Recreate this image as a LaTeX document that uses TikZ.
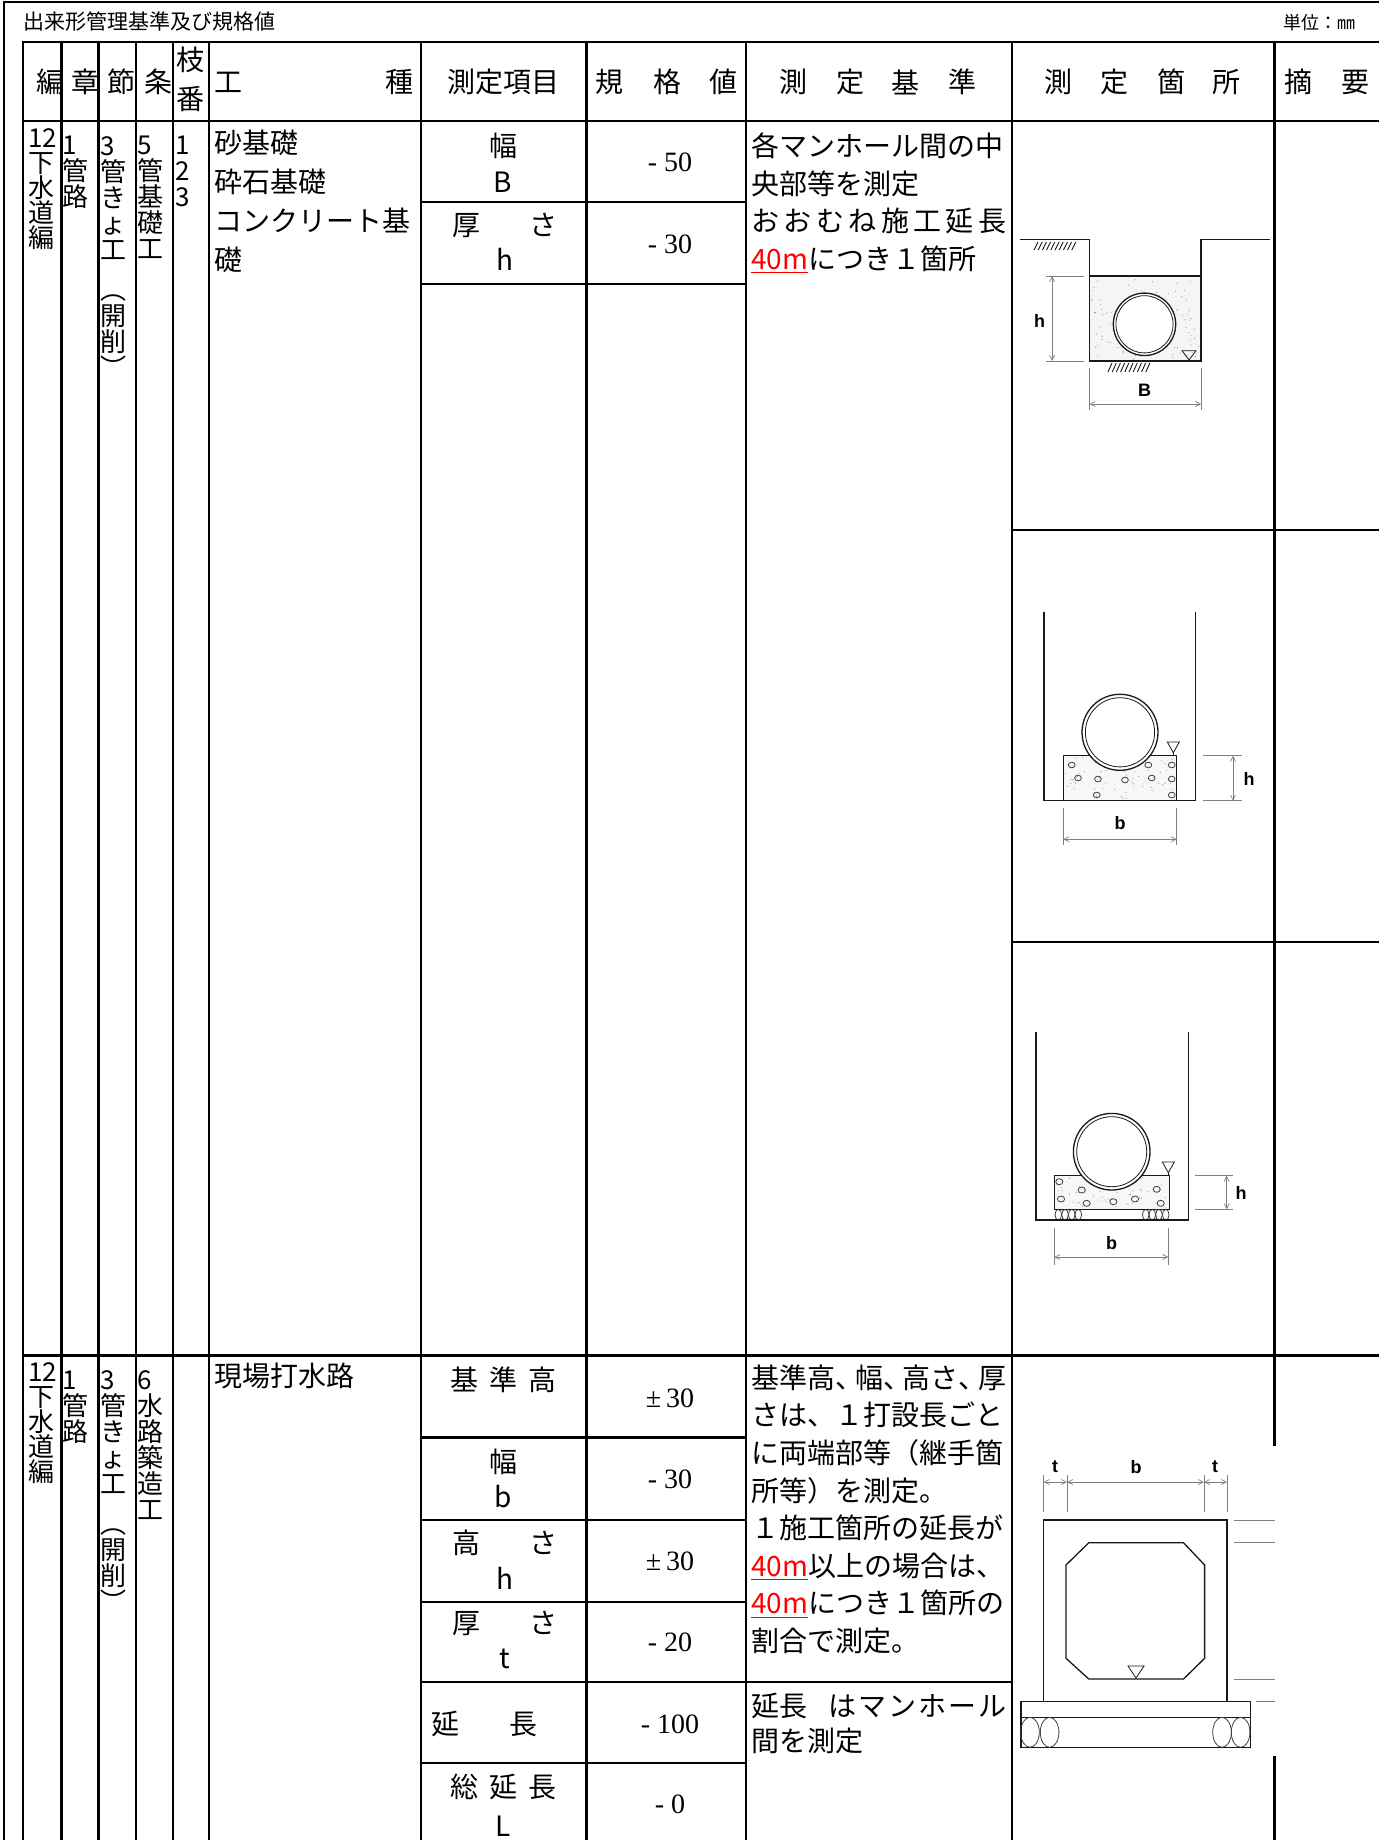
\documentclass[tikz,border=0pt]{standalone}
\usepackage{fontspec}
\setmainfont{Noto Sans CJK JP}
\newfontfamily\serifnum{Liberation Serif}
\newfontfamily\labelfont{Liberation Sans}
\usetikzlibrary{arrows.meta}

\newcommand{\redlen}{\textcolor{red}{\underline{40m}}}
\newcommand{\halfcomma}{\makebox[0.5em][l]{、}}

\tikzset{
  sheet/.style={x=0.5pt, y=-0.5pt},
  gridline/.style={line width=1.3pt, line cap=rect},
  headcell/.style={inner sep=0pt, anchor=center, font=\fontsize{14}{14}\selectfont},
  para/.style={inner sep=0pt, align=left, anchor=north west,
    font={\fontsize{14}{18.8}\selectfont\lineskiplimit=-100pt}},
  measure/.style={inner sep=0pt, align=center, anchor=north,
    font={\fontsize{14}{18}\selectfont\lineskiplimit=-100pt}},
  spec/.style={inner sep=0pt, anchor=center, font=\serifnum\fontsize{14}{14}\selectfont},
  vtext/.style={inner sep=0pt, align=left, anchor=north west,
    font={\fontsize{13}{13}\selectfont\lineskiplimit=-100pt}},
  dwg/.style={draw=black!90, line width=0.65pt},
  extline/.style={draw=black!50, line width=0.35pt},
  dimarrow/.style={extline,
    arrows={Straight Barb[length=2.5pt,width=2.5pt]-Straight Barb[length=2.5pt,width=2.5pt]}},
  dimlabel/.style={inner sep=0pt, font=\labelfont\bfseries\fontsize{9}{9}\selectfont},
  stone/.style={draw=black!75, line width=0.4pt},
}

\begin{document}
\begin{tikzpicture}[sheet]
\useasboundingbox (0,0) rectangle (1379,1840);

% frame, title
\draw[gridline] (4,1840) -- (4,2) -- (1379,2);
\node[inner sep=0pt, anchor=west, font=\fontsize{10.5}{10.5}\selectfont] (title) at (23,22) {出来形管理基準及び規格値};
\node[inner sep=0pt, anchor=east, font=\fontsize{9}{9}\selectfont] (unit) at (1356,23) {単位：㎜};

% table rules
\draw[gridline] (23,1840) -- (23,42) -- (1379,42);
\draw[gridline] (23,121) -- (1379,121);
\draw[gridline] (23,1355.5) -- (1379,1355.5);
\foreach \x in {61.5,98.7,136,173,209,421,586.5,746,1012}
  \draw[gridline] (\x,42) -- (\x,1840);
\draw[gridline] (1274.5,42) -- (1274.5,1445);
\draw[gridline] (1274.5,1757) -- (1274.5,1840);
\foreach \y in {202,284,1437.6,1520,1602,1763}
  \draw[gridline] (421,\y) -- (746,\y);
\draw[gridline] (421,1682) -- (1012,1682);
\foreach \y in {530,942}
  \draw[gridline] (1012,\y) -- (1379,\y);

% header
\node[headcell] (hhen) at (50,82) {編};
\node[headcell] (hsho) at (85.5,82) {章};
\node[headcell] (hsetsu) at (121.5,82) {節};
\node[headcell] (hjo) at (158.5,82) {条};
\node[headcell, align=center, font={\fontsize{14}{19.5}\selectfont}] (heda) at (190,79.5) {枝\\番};
\node[headcell, anchor=west] (hko) at (214,82) {工};
\node[headcell, anchor=east] (hshu) at (414,82) {種};
\node[headcell] (hkomoku) at (503,82) {測定項目};
\foreach \c/\x [count=\i] in {規/609.5,格/667.5,値/723}
  \node[headcell] (hkikaku\i) at (\x,82) {\c};
\foreach \c/\x [count=\i] in {測/793,定/850,基/905,準/962.5}
  \node[headcell] (hkijun\i) at (\x,82) {\c};
\foreach \c/\x [count=\i] in {測/1058,定/1114,箇/1171,所/1226}
  \node[headcell] (hkasho\i) at (\x,82) {\c};
\foreach \c/\x [count=\i] in {摘/1298.5,要/1355.5}
  \node[headcell] (htekiyo\i) at (\x,82) {\c};

% block 1
\node[vtext, font={\fontsize{13}{12.5}\selectfont\lineskiplimit=-100pt}] (hen1) at (28,128) {12\\下\\水\\道\\編};
\node[vtext] (sho1) at (62.5,136) {1\\管\\路};
\node[vtext] (setsu1) at (100,136) {3\\管\\き\\ょ\\工\\[7pt]︵\\開\\削\\︶};
\node[vtext] (jo1) at (137.5,136) {5\\管\\基\\礎\\工};
\node[vtext] (eda1) at (175,136) {1\\2\\3};
\node[para, font={\fontsize{14}{19.5}\selectfont}] (koshu1) at (213.6,130) {砂基礎\\砕石基礎\\コンクリート基\\礎};
\node[measure] (haba1) at (503,133) {幅\\B};
\node[measure, font={\fontsize{14}{17.75}\selectfont}] (atsusa1) at (504.5,212.5) {厚\hspace{1.75em}さ\\h};
\node[spec] (kikaku1) at (670,162) {- 50};
\node[spec] (kikaku2) at (670,244) {- 30};
\node[para] (kijun1) at (751,132.5) {各マンホール間の中\\央部等を測定\\\makebox[127.5pt][l]{お\hfill お\hfill む\hfill ね\hfill 施\hfill 工\hfill 延\hfill 長}\\\redlen につき１箇所};

% sand foundation
\fill[black!4] (1089.4,276) rectangle (1201,361);
\pgfmathsetseed{3}
\foreach \k in {1,...,110}{
  \pgfmathsetmacro{\dotx}{1091+108*rnd}
  \pgfmathsetmacro{\doty}{278+81*rnd}
  \fill[black!40] (\dotx,\doty) circle (0.3pt);
}
\draw[dwg] (1020,239.3) -- (1089.4,239.3) -- (1089.4,361) -- (1201,361) -- (1201,239.3) -- (1270,239.3);
\draw[dwg] (1089.4,276) -- (1201,276);
\foreach \k in {0,...,9}
  \draw[dwg, line width=0.45pt] (1034+4.2*\k,250) -- ++(4,-8);
\foreach \k in {0,...,9}
  \draw[dwg, line width=0.45pt] (1108+4.2*\k,372) -- ++(4,-9);
\draw[dwg, fill=white] (1144.5,324.3) circle (15.6pt);
\draw[dwg, line width=0.4pt] (1144.5,324.3) circle (14.3pt);
\draw[dwg, line width=0.4pt] (1182,350.7) -- (1196,350.7) -- (1189,360) -- cycle;
\draw[extline] (1045.5,276) -- (1084,276);
\draw[extline] (1045.5,361) -- (1084,361);
\draw[dimarrow] (1052,276) -- (1052,361);
\node[dimlabel] (lh1) at (1039.7,320.7) {h};
\draw[extline] (1089.4,368) -- (1089.4,410);
\draw[extline] (1201,368) -- (1201,410);
\draw[dimarrow] (1089.4,404) -- (1201,404);
\node[dimlabel] (lB1) at (1144.5,390.7) {B};

% gravel foundation
\fill[black!3] (1063.3,755.7) rectangle (1176.7,800.7);
\foreach \k in {1,...,60}{
  \pgfmathsetmacro{\dotx}{1065+110*rnd}
  \pgfmathsetmacro{\doty}{757+42*rnd}
  \fill[black!40] (\dotx,\doty) circle (0.3pt);
}
\foreach \sx/\sy in {1071.7/765,1148.3/765,1171.7/765,1078/778,1098/779,1125/780,1151.7/778,1171.7/779,1096.7/795,1171.7/795}
  \draw[stone] (\sx,\sy) ellipse [x radius=1.7pt, y radius=1.4pt];
\draw[dwg] (1063.3,800.7) -- (1063.3,755.7) -- (1176.7,755.7) -- (1176.7,800.7);
\draw[dwg] (1044,611.7) -- (1044,800.7) -- (1195.7,800.7) -- (1195.7,611.7);
\draw[dwg, fill=white] (1120,732.3) circle (19pt);
\draw[dwg, line width=0.4pt] (1120,732.3) circle (17.3pt);
\draw[dwg, line width=0.4pt] (1167.3,742) -- (1179.3,742) -- (1173.3,752.7) -- cycle;
\draw[dwg, line width=0.4pt] (1173.3,752.7) -- (1173.3,755.7);
\draw[extline] (1203,755.7) -- (1242,755.7);
\draw[extline] (1203,800.7) -- (1242,800.7);
\draw[dimarrow] (1233,755.7) -- (1233,800.7);
\node[dimlabel] (lh2) at (1249,779) {h};
\draw[extline] (1063.3,808) -- (1063.3,845);
\draw[extline] (1176.7,808) -- (1176.7,845);
\draw[dimarrow] (1063.3,839.3) -- (1176.7,839.3);
\node[dimlabel] (lb2) at (1120,822.7) {b};

% concrete foundation
\fill[black!3] (1054.3,1175.7) rectangle (1169.3,1209.3);
\foreach \k in {1,...,50}{
  \pgfmathsetmacro{\dotx}{1056+111*rnd}
  \pgfmathsetmacro{\doty}{1177+31*rnd}
  \fill[black!40] (\dotx,\doty) circle (0.3pt);
}
\foreach \sx/\sy in {1059.3/1181.7,1081.7/1190,1156.7/1189.3,1061/1199,1086.7/1203.3,1113.3/1201.7,1135/1199,1160.7/1203.3}
  \draw[stone] (\sx,\sy) ellipse [x radius=1.8pt, y radius=1.5pt];
\draw[dwg] (1054.3,1175.7) rectangle (1169.3,1209.3);
\foreach \px in {1058.3,1065,1071.7,1078.3,1145.7,1152.3,1159,1165.7}
  \draw[stone] (\px,1214.7) ellipse [x radius=1.65pt, y radius=2.65pt];
\draw[dwg] (1036,1032) -- (1036,1220) -- (1188.3,1220) -- (1188.3,1032);
\draw[dwg, fill=white] (1111.7,1151.7) circle (19.15pt);
\draw[dwg, line width=0.4pt] (1111.7,1151.7) circle (17.5pt);
\draw[dwg, line width=0.4pt] (1162.3,1162) -- (1174.3,1162) -- (1168.3,1172.7) -- cycle;
\draw[dwg, line width=0.4pt] (1168.3,1172.7) -- (1168.3,1175.7);
\draw[extline] (1195,1175.7) -- (1233,1175.7);
\draw[extline] (1195,1209.3) -- (1233,1209.3);
\draw[dimarrow] (1226.7,1175.7) -- (1226.7,1209.3);
\node[dimlabel] (lh3) at (1241,1192.7) {h};
\draw[extline] (1054.3,1228) -- (1054.3,1265);
\draw[extline] (1168.3,1228) -- (1168.3,1265);
\draw[dimarrow] (1054.3,1257) -- (1168.3,1257);
\node[dimlabel] (lb3) at (1111.7,1242.7) {b};

% block 2
\node[vtext, font={\fontsize{13}{12.5}\selectfont\lineskiplimit=-100pt}] (hen2) at (28,1362.5) {12\\下\\水\\道\\編};
\node[vtext] (sho2) at (62.5,1370.5) {1\\管\\路};
\node[vtext] (setsu2) at (100,1370.5) {3\\管\\き\\ょ\\工\\[7pt]︵\\開\\削\\︶};
\node[vtext] (jo2) at (137.5,1370.5) {6\\水\\路\\築\\造\\工};
\node[inner sep=0pt, anchor=west, font=\fontsize{14}{14}\selectfont] (koshu2) at (213.6,1375.5) {現場打水路};
\node[headcell] (kijundaka) at (503.5,1380) {基\hspace{0.4em}準\hspace{0.4em}高};
\node[measure, font={\fontsize{14}{17.5}\selectfont}] (haba2) at (503,1448.5) {幅\\b};
\node[measure, font={\fontsize{14}{18.25}\selectfont}] (takasa2) at (504.5,1529.5) {高\hspace{1.75em}さ\\h};
\node[measure, font={\fontsize{14}{17.5}\selectfont}] (atsusa2) at (504.5,1610.5) {厚\hspace{1.75em}さ\\t};
\node[headcell, anchor=west] (encho2) at (431,1724) {延\hspace{1.8em}長};
\node[measure, font={\fontsize{14}{19.5}\selectfont}] (soencho2) at (503.5,1773.5) {総\hspace{0.4em}延\hspace{0.4em}長\\L};
\foreach \v/\y [count=\i] in {±\,30/1398,- 30/1479,±\,30/1561,- 20/1642,- 100/1724,- 0/1804}
  \node[spec] (kikaku2\i) at (670,\y) {\v};
\node[para] (kijun2) at (751,1364.2) {\makebox[127.5pt][l]{基準高\halfcomma\hfill 幅\halfcomma\hfill 高さ\halfcomma\hfill 厚}\\さは、１打設長ごと\\に両端部等（継手箇\\所等）を測定。\\１施工箇所の延長が\\\redlen 以上の場合は、\\\redlen につき１箇所の\\割合で測定。};
\node[para, font={\fontsize{14}{17.6}\selectfont}] (kijun3) at (751,1692.8) {\makebox[127.5pt][l]{延長\hspace{0.75em}は\hfill マ\hfill ン\hfill ホ\hfill ー\hfill ル}\\間を測定};

% box culvert
\draw[dwg] (1043.6,1520) rectangle (1227,1701.7);
\draw[dwg] (1088.8,1542.7) -- (1183.5,1542.7) -- (1204.6,1565) -- (1204.6,1658.3) -- (1183.5,1679)
  -- (1088.8,1679) -- (1066,1658.3) -- (1066,1565) -- cycle;
\draw[dwg, line width=0.4pt] (1128,1666) -- (1144,1666) -- (1136,1678) -- cycle;
\draw[dwg] (1021,1701.7) rectangle (1250.6,1717.3);
\draw[dwg] (1021,1717.3) rectangle (1250.6,1747.3);
\foreach \px in {1030,1049.6,1222,1240.6}
  \draw[stone] (\px,1732.3) ellipse [x radius=4.65pt, y radius=7.5pt];
\foreach \y in {1520,1542.7,1679}
  \draw[extline] (1234,\y) -- (1275,\y);
\draw[extline] (1256,1701.7) -- (1275,1701.7);
\foreach \x in {1043.6,1067,1204,1227}
  \draw[extline] (\x,1475) -- (\x,1512);
\draw[dimarrow] (1043.6,1482) -- (1067,1482);
\draw[dimarrow] (1067,1482) -- (1204,1482);
\draw[dimarrow] (1204,1482) -- (1227,1482);
\node[dimlabel] (lt4a) at (1055,1467) {t};
\node[dimlabel] (lb4) at (1136,1467) {b};
\node[dimlabel] (lt4b) at (1215,1467) {t};
\end{tikzpicture}
\end{document}
